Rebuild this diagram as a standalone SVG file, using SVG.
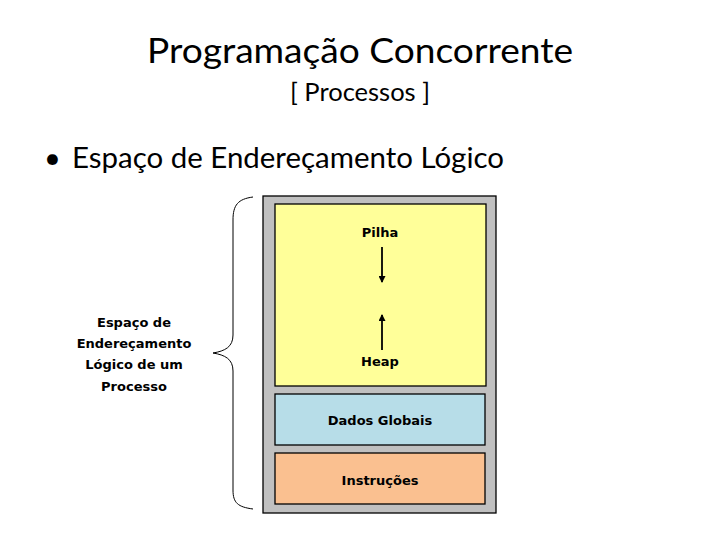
<svg xmlns="http://www.w3.org/2000/svg" width="720" height="540" viewBox="0 0 720 540">
<style>
.t{font-family:Lato,"Liberation Sans",sans-serif;fill:#000}
.l{font-family:"DejaVu Sans",Verdana,sans-serif;font-weight:bold;font-size:13px;fill:#000;text-anchor:middle}
.box{stroke:#000;stroke-width:1.3}
</style>
<defs>
<marker id="ah" markerWidth="7" markerHeight="7" refX="6" refY="3.5" orient="auto" markerUnits="userSpaceOnUse">
<path d="M0,0 L7,3.5 L0,7 z" fill="#000"/>
</marker>
</defs>
<rect width="720" height="540" fill="#fff"/>
<text class="t" x="360" y="63" font-size="35" text-anchor="middle" textLength="426" lengthAdjust="spacingAndGlyphs">Programação Concorrente</text>
<text class="t" x="360" y="101" font-size="25" text-anchor="middle" textLength="140" lengthAdjust="spacingAndGlyphs">[ Processos ]</text>
<text class="t" x="44" y="168" font-size="29">•</text>
<text class="t" x="72" y="168" font-size="29.5" textLength="432" lengthAdjust="spacingAndGlyphs">Espaço de Endereçamento Lógico</text>
<g id="memoria">
<rect class="box" x="263" y="196" width="233" height="317" fill="#c0c0c0"/>
</g>
<g id="pilha-heap">
<rect class="box" x="275" y="204" width="211" height="182" fill="#ffff99"/>
<text class="l" x="380" y="237">Pilha</text>
<text class="l" x="380" y="366">Heap</text>
</g>
<g id="dados-globais">
<rect class="box" x="275" y="394" width="210" height="51" fill="#b7dde8"/>
<text class="l" x="380" y="425">Dados Globais</text>
</g>
<g id="instrucoes">
<rect class="box" x="275" y="453" width="210" height="51" fill="#fac090"/>
<text class="l" x="380" y="485">Instruções</text>
</g>
<g id="rotulo">
<text class="l" x="134" y="327">Espaço de</text>
<text class="l" x="134" y="348">Endereçamento</text>
<text class="l" x="134" y="369">Lógico de um</text>
<text class="l" x="134" y="391">Processo</text>
</g>
<g id="conectores" fill="none" stroke="#000">
<line x1="382" y1="247" x2="382" y2="282" stroke-width="1.8" marker-end="url(#ah)"/>
<line x1="382" y1="350" x2="382" y2="315" stroke-width="1.8" marker-end="url(#ah)"/>
<path d="M253,197 C238,199 233,205 233,220 L233,335 C233,347 225,351 213,353 C225,355 233,359 233,371 L233,490 C233,503 238,507 253,509" stroke-width="1"/>
</g>
</svg>
